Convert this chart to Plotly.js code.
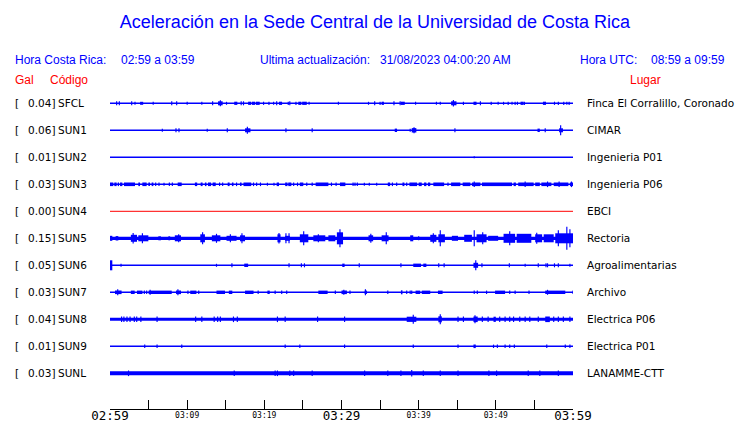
<!DOCTYPE html>
<html>
<head>
<meta charset="utf-8">
<script src="https://cdn.plot.ly/plotly-3.0.1.min.js"></script>
<style>html,body{margin:0;padding:0;background:#fff;}#chart{width:740px;height:423px;}</style>
</head>
<body>
<div id="chart"></div>
<script>
// ---------- DATA ----------
const codes  = ["SFCL","SUN1","SUN2","SUN3","SUN4","SUN5","SUN6","SUN7","SUN8","SUN9","SUNL"];
const galMax = [0.04, 0.06, 0.01, 0.03, 0.00, 0.15, 0.05, 0.03, 0.04, 0.01, 0.03];
const places = ["Finca El Corralillo, Coronado","CIMAR","Ingenieria P01","Ingenieria P06","EBCI","Rectoria",
                "Agroalimentarias","Archivo","Electrica P06","Electrica P01","LANAMME-CTT"];

// time axis: minutes after 02:59 (local Costa Rica time)
const majorTickMinutes = [0,5,10,15,20,25,30,35,40,45,50,55,60];
const majorTickLabels  = ["02:59","","","","","","03:29","","","","","","03:59"];
const minorLabelMinutes = [10,20,40,50];
const minorLabels       = ["03:09","03:19","03:39","03:49"];

// bursts of each record: [minute, amplitude] or [startMinute, endMinute, amplitude]
const burstsSFCL = [[0.86,2],[1.21,2],[2.81,2],[3.24,1.5],[3.9,4.3,1.5],[5.6,1.5],[8.0,2],[8.64,2],[10.0,1.5],[11.9,1.5],[13.3,2],[14.0,14.6,2],[14.3,3],[15.1,1.5],[16.1,16.5,1.6],[17.0,2],[17.3,2],[17.9,18.3,1.6],[18.4,18.8,1.6],[18.9,19.4,1.6],[19.9,1.6],[20.6,1.6],[21.2,1.5],[21.6,2],[21.9,22.3,1.6],[23.1,1.6],[23.3,2],[24.1,1.6],[24.4,24.8,1.6],[24.9,25.5,1.6],[25.8,1.5],[29.6,1.5],[33.5,1.5],[34.3,2],[35.0,1.6],[35.2,35.5,1.6],[36.8,2],[37.6,2],[37.7,38.2,1.6],[39.6,1.5],[42.3,1.5],[42.8,1.5],[44.2,44.9,2],[44.5,3.2],[45.8,1.6],[47.1,47.5,1.6],[48.0,2],[49.4,1.6],[50.3,1.5],[51.0,1.5],[51.6,1.6],[52.1,1.5],[52.5,1.6],[52.8,1.6],[53.2,53.6,1.6],[53.7,1.6],[56.1,56.5,1.6],[57.6,1.6],[58.1,1.6],[58.8,1.6],[59.2,1.5],[59.5,1.6]];
const burstsSUN1 = [[6.78,1.5],[8.55,2],[8.94,2],[12.6,1.5],[15.2,2],[17.5,18.2,2],[17.8,3.5],[22.8,2],[26.2,2],[36.9,37.2,1.7],[38.9,1.5],[39.1,39.7,2.2],[39.4,3],[44.7,2],[55.4,55.7,1.7],[56.4,2],[58.2,58.7,2],[58.4,5]];
const burstsSUN2 = [[47.2,1]];
const burstsSUN3 = [[0.0,0.43,1.8],[0.56,0.86,1.8],[1.0,1.17,1.8],[1.3,1.6,1.8],[1.81,3.24,1.8],[3.67,3.89,1.8],[4.19,4.75,1.8],[4.97,5.18,1.8],[5.4,5.62,1.8],[5.92,1.8],[6.35,1.8],[7.0,1.5],[7.69,1.8],[8.08,1.8],[8.77,9.29,1.8],[11.0,11.3,1.8],[11.75,12.0,1.8],[12.3,12.5,1.8],[12.7,13.1,1.8],[13.3,13.7,1.8],[14.2,1.8],[14.6,1.8],[15.25,15.5,1.8],[15.8,16.0,1.8],[16.4,1.8],[16.85,17.05,1.8],[17.3,18.3,1.8],[18.6,1.8],[19.0,1.8],[19.5,1.8],[20.4,1.5],[21.25,1.5],[21.6,21.9,1.8],[22.7,23.0,1.8],[23.1,23.5,1.8],[23.8,1.8],[24.3,1.8],[24.6,25.05,1.8],[25.5,1.8],[26.2,1.8],[26.65,28.3,1.8],[28.7,1.8],[29.3,1.8],[29.8,30.5,1.8],[31.5,1.8],[31.75,1.8],[32.05,1.8],[32.96,1.5],[33.6,1.5],[34.56,1.5],[36.0,36.3,1.8],[36.6,1.8],[37.15,1.8],[37.9,38.15,1.8],[38.45,1.8],[38.8,39.8,1.8],[40.0,40.4,1.8],[40.7,41.0,1.8],[41.2,41.5,1.8],[41.9,43.3,1.8],[43.8,1.8],[44.2,45.4,1.8],[45.7,46.7,1.8],[46.9,48.0,1.8],[47.2,2.8],[48.2,52.1,1.8],[52.3,52.6,1.8],[52.9,54.9,1.8],[53.8,2.8],[55.1,55.7,1.8],[55.9,57.2,1.8],[56.7,2.8],[57.5,59.4,1.8],[58.2,2.8],[59.6,60.0,1.8],[59.8,2.8]];
const burstsSUN4 = [];
const burstsSUN5 = [[0.0,0.3,2.5],[0.73,1.08,2.2],[2.7,3.5,3.5],[3.0,5.3],[3.67,4.97,3],[4.2,5],[6.26,6.6,2],[7.56,7.8,2],[8.4,9.2,3],[8.9,4],[11.7,12.3,4],[12.0,6],[13.2,14.3,3],[13.8,4.5],[15.1,16.4,2.5],[15.6,4],[16.85,17.5,3],[17.1,5],[21.7,22.1,4],[21.9,5.3],[22.7,23.3,2.5],[22.8,5],[23.2,5],[24.6,25.7,4],[25.1,7],[26.35,27.9,3],[27.0,4],[28.3,29.2,3],[29.4,30.2,6],[29.8,9],[33.5,34.1,3],[33.8,4.5],[35.2,36.1,3],[35.8,6],[38.9,39.3,3],[40.0,2],[41.5,42.3,3.5],[41.9,5],[42.55,43.4,4],[42.8,8],[44.3,45.1,2.5],[45.9,46.9,3.5],[47.2,8],[47.5,48.8,4],[48.3,6],[49.0,50.3,2.5],[51.0,52.5,4.5],[51.8,7],[52.7,54.6,4.5],[55.1,56.0,4],[55.3,5.5],[56.2,57.5,4],[57.7,60,5],[58.1,8],[59.2,11.5],[59.6,9]];
const burstsSUN6 = [[0.0,0.3,5],[1.43,1.5],[13.8,1.5],[15.8,2],[17.4,17.9,1.7],[23.2,2],[24.8,2],[25.2,2],[30.1,30.4,1.7],[32.3,2],[37.7,2],[39.3,40.3,1.7],[40.6,41.0,1.7],[42.6,2],[43.3,2],[47.1,47.7,2.5],[47.4,5],[48.2,2],[51.75,2],[53.8,1.5],[55.5,2],[56.5,2],[56.7,2],[57.6,2],[58.1,2],[59.6,1.5]];
const burstsSUN7 = [[0.65,1.5,1.8],[1.0,3],[2.7,3.2,1.7],[3.5,4.2,1.7],[4.45,1.7],[4.75,1.7],[5.0,8.0,1.7],[5.2,2.5],[8.55,9.2,1.8],[8.8,3],[10.1,1.7],[10.4,11.2,1.7],[11.5,1.7],[13.8,14.9,1.7],[15.4,15.85,1.7],[17.5,18.6,1.7],[19.2,1.7],[20.4,20.7,1.7],[21.4,1.7],[22.25,1.7],[22.9,1.7],[27.0,28.2,1.7],[29.2,1.7],[30.0,30.7,1.8],[30.3,2.5],[31.1,1.7],[33.0,33.3,1.7],[33.1,3],[36.0,1.7],[37.7,37.9,2],[38.45,1.7],[38.9,1.7],[39.1,1.7],[39.6,40.2,1.7],[40.4,41.5,1.7],[42.5,43.1,1.7],[47.2,1.7],[47.6,1.7],[48.8,1.7],[49.9,51.2,1.7],[51.8,1.7],[52.5,1.7],[54.3,1.7],[56.4,59.0,1.7],[56.7,2.5],[60.0,1.7]];
const burstsSUN8 = [[1.5,2.8],[1.8,2.8],[2.2,2.8],[2.6,2.8],[3.15,2.8],[3.46,2.8],[4.0,2.8],[6.1,2.8],[11.1,2.8],[11.9,2.8],[13.5,2.8],[13.95,2.8],[14.3,2.8],[16.0,2.8],[16.5,2.8],[21.7,2.8],[22.7,2.8],[26.9,2.8],[30.4,2.8],[38.45,39.7,2.6],[39.3,4.5],[42.55,43.0,3],[42.8,5],[45.1,2.8],[45.8,2.8],[47.1,47.65,2.8],[47.3,4],[48.25,2.8],[49.0,2.8],[49.7,50.0,2.6],[50.5,2.8],[51.2,2.8],[51.8,2.8],[52.3,2.8],[53.1,2.8],[53.8,2.8],[54.4,2.8],[55.5,2.8],[56.4,57.0,2.8],[57.5,2.8],[58.1,2.8],[58.75,2.8],[59.6,2.8]];
const burstsSUN9 = [[4.5,1.7],[6.1,1.7],[9.3,1.7],[22.7,1.8],[24.6,1.7],[30.4,1.7],[39.3,1.8],[45.1,1.7],[47.1,47.4,1.8],[49.7,1.7],[50.2,1.8],[51.2,1.8],[51.8,1.7],[52.4,1.7],[56.6,1.7],[59.0,1.7],[59.6,1.7]];
const burstsSUNL = [[2.4,2.8],[16.1,2.8],[21.4,2.8],[21.7,2.8],[23.3,2.8],[23.8,2.8],[26.2,2.8],[33.0,2.8],[36.0,2.8],[37.7,2.8],[39.1,3.3],[40.6,2.8],[42.8,2.8],[45.1,2.8],[49.1,2.8],[50.1,2.8],[54.2,2.8],[55.7,2.8],[58.1,2.8]];

// ---------- STYLE ----------
const allBursts = [burstsSFCL,burstsSUN1,burstsSUN2,burstsSUN3,burstsSUN4,burstsSUN5,burstsSUN6,burstsSUN7,burstsSUN8,burstsSUN9,burstsSUNL];
const traceColors = codes.map(c => c === "SUN4" ? "#ff0000" : "#0000ff");
const baseWidths  = [1.5,1.5,1.5,1.5,1,3.2,1.5,1.5,3,1.5,4];
const AMP_SCALE = 27;      // amplitude units per row
const MIN_W = 0.15;        // minimum drawn width (minutes)

const W = 740, H = 423;
const M = {l:110, r:167, t:89, b:14};
const PW = W - M.l - M.r, PH = H - M.t - M.b;
const px2x = px => (px - M.l) / PW;
const py2y = py => (H - M.b - py) / PH;

const traces = [];
codes.forEach((c, i) => {
  traces.push({type:'scatter', mode:'lines', x:[0,60], y:[i,i],
    line:{color:traceColors[i], width:baseWidths[i]}, hoverinfo:'skip', showlegend:false});
  const b = allBursts[i];
  if (b.length) {
    const xs=[], ys=[], bases=[], ws=[];
    b.forEach(e => {
      const t0 = e[0];
      const t1 = e.length === 3 ? e[1] : e[0];
      const a  = e.length === 3 ? e[2] : e[1];
      xs.push((t0+t1)/2);
      ws.push(Math.max(t1-t0, MIN_W));
      ys.push(2*a/AMP_SCALE);
      bases.push(i - a/AMP_SCALE);
    });
    traces.push({type:'bar', x:xs, y:ys, base:bases, width:ws,
      marker:{color:traceColors[i], line:{width:0}}, hoverinfo:'skip', showlegend:false});
  }
});
// anchor trace for the minor-label axis
traces.push({type:'scatter', mode:'lines', x:[0,60], y:[null,null], xaxis:'x2', yaxis:'y', showlegend:false, hoverinfo:'skip'});

const ann = [];
const rowFont = {family:'DejaVu Sans', size:10.5, color:'#000'};
codes.forEach((c, i) => {
  ann.push({xref:'paper', yref:'y', x:px2x(13), y:i, text:'[', showarrow:false, xanchor:'left', yanchor:'middle', font:rowFont});
  ann.push({xref:'paper', yref:'y', x:px2x(57), y:i, text:galMax[i].toFixed(2)+']', showarrow:false, xanchor:'right', yanchor:'middle', font:rowFont});
  ann.push({xref:'paper', yref:'y', x:px2x(56), y:i, text:c, showarrow:false, xanchor:'left', yanchor:'middle', font:rowFont});
  ann.push({xref:'paper', yref:'y', x:px2x(585), y:i, text:places[i], showarrow:false, xanchor:'left', yanchor:'middle', font:rowFont});
});
const hdr = {family:'Liberation Sans', size:12, color:'#0000ff'};
const red = {family:'Liberation Sans', size:12, color:'#ff0000'};
function hann(px, py, text, font) {
  ann.push({xref:'paper', yref:'paper', x:px2x(px), y:py2y(py), text:text, showarrow:false, xanchor:'left', yanchor:'middle', font:font});
}
hann(13, 60, 'Hora Costa Rica:', hdr);
hann(119, 60, '02:59 a 03:59', hdr);
hann(258, 60, 'Ultima actualización:', hdr);
hann(378, 60, '31/08/2023 04:00:20 AM', hdr);
hann(578, 60, 'Hora UTC:', hdr);
hann(649, 60, '08:59 a 09:59', hdr);
hann(13, 80, 'Gal', red);
hann(48, 80, 'Código', red);
hann(628, 80, 'Lugar', red);

const layout = {
  width:W, height:H, margin:M, paper_bgcolor:'#fff', plot_bgcolor:'#fff',
  showlegend:false, barmode:'overlay', hovermode:false,
  title:{text:'Aceleración en la Sede Central de la Universidad de Costa Rica',
    font:{family:'Liberation Sans', size:18, color:'#0000ff'},
    xref:'container', yref:'container', x:375/W, y:1-22/H, xanchor:'center', yanchor:'middle'},
  xaxis:{range:[0,60], showgrid:false, zeroline:false, showline:true, linecolor:'#000', linewidth:1,
    ticks:'inside', ticklen:9, tickcolor:'#000', tickwidth:1,
    tickmode:'array', tickvals:majorTickMinutes, ticktext:majorTickLabels, ticklabelstandoff:-5,
    tickfont:{family:'DejaVu Sans Mono', size:12.5, color:'#000'}, automargin:false, fixedrange:true},
  xaxis2:{range:[0,60], overlaying:'x', anchor:'y', side:'bottom', showgrid:false, zeroline:false, showline:false,
    ticks:'', tickmode:'array', tickvals:minorLabelMinutes, ticktext:minorLabels,
    tickfont:{family:'DejaVu Sans Mono', size:8, color:'#000'}, automargin:false, fixedrange:true},
  yaxis:{range:[(H-M.b-103.3)/27, (M.t-103.3)/27], showgrid:false, zeroline:false, showline:false,
    showticklabels:false, ticks:'', automargin:false, fixedrange:true},
  annotations:ann
};
Plotly.newPlot('chart', traces, layout, {staticPlot:true, displayModeBar:false});
</script>
</body>
</html>
